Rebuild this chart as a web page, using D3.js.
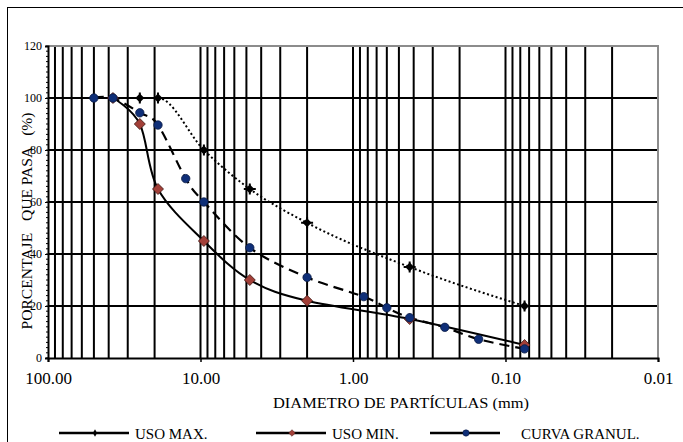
<!DOCTYPE html>
<html>
<head>
<meta charset="utf-8">
<script src="https://cdn.jsdelivr.net/npm/d3@7"></script>
<style>
  body { margin: 0; background: #fff; }
  svg { display: block; }
  text { font-family: "Liberation Serif", "Times New Roman", serif; fill: #000; }
</style>
</head>
<body>
<svg id="chart" width="683" height="442"></svg>
<script>
// Grain-size distribution: specification band (max / min) and the measured curve
const sizesMax = [25, 19, 9.5, 4.75, 2.0, 0.425, 0.075];
const pasaMax = [100, 100, 80, 65, 52, 35, 20];

const sizesMin = [37.5, 25, 19, 9.5, 4.75, 2.0, 0.425, 0.075];
const pasaMin = [100, 90, 65, 45, 30, 22, 15, 5];

const sizesGranul = [50, 37.5, 25, 19, 12.5, 9.5, 4.75, 2.0, 0.85, 0.6, 0.425, 0.25, 0.15, 0.075];
const pasaGranul = [100, 100, 94.3, 89.6, 69, 60, 42.4, 31, 23.6, 19.3, 15.5, 11.8, 7.2, 3.5];

const xTickValues = [100, 10, 1, 0.1, 0.01];
const yTickValues = [0, 20, 40, 60, 80, 100, 120];
const legendLabels = ["USO MAX.", "USO MIN.", "CURVA GRANUL."];
const xTitle = "DIAMETRO DE PARTÍCULAS (mm)";
const yTitle = "PORCENTAJE   QUE PASA   (%)";

const svg = d3.select("#chart");
const W = 683, H = 442;

// outer chart frame (runs off the right and bottom edge)
svg.append("rect")
  .attr("x", 7.5).attr("y", 7.5)
  .attr("width", W + 20).attr("height", H + 20)
  .attr("fill", "none").attr("stroke", "#000").attr("stroke-width", 1);

const plot = { left: 48, right: 658, top: 46, bottom: 358 };

const x = d3.scaleLog().domain([100, 0.01]).range([plot.left, plot.right]);
const y = d3.scaleLinear().domain([0, 120]).range([plot.bottom, plot.top]);

// vertical log grid: 1..9 in every decade
const gridX = [];
[10, 1, 0.1, 0.01].forEach(k => {
  for (let m = 1; m <= 9; m++) {
    const v = +(m * k).toPrecision(6);
    if (v > 0.01 && v < 100) gridX.push(v);
  }
});
const grid = svg.append("g");
grid.selectAll("line.vx").data(gridX).join("line")
  .attr("x1", d => x(d)).attr("x2", d => x(d))
  .attr("y1", y(0)).attr("y2", y(120))
  .attr("stroke", "#000").attr("stroke-width", 2);
grid.selectAll("line.hy").data(yTickValues.filter(v => v > 0 && v < 120)).join("line")
  .attr("x1", plot.left).attr("x2", plot.right)
  .attr("y1", d => y(d)).attr("y2", d => y(d))
  .attr("stroke", "#000").attr("stroke-width", 2);

// plot-area border (top and right)
svg.append("path")
  .attr("d", `M${plot.left},${y(120)}H${plot.right}V${y(0)}`)
  .attr("fill", "none").attr("stroke", "#8c8c8c").attr("stroke-width", 2);

// y axis with minor ticks every 2 %
const yMinor = d3.range(0, 121, 2);
svg.append("g").selectAll("line").data(yMinor).join("line")
  .attr("x1", plot.left - 2).attr("x2", plot.left)
  .attr("y1", d => y(d)).attr("y2", d => y(d))
  .attr("stroke", "#000").attr("stroke-width", 1);

const yAxis = svg.append("g")
  .attr("transform", `translate(${plot.left},0)`)
  .call(d3.axisLeft(y).tickValues(yTickValues).tickSize(3).tickPadding(3));
yAxis.select(".domain").attr("stroke", "#000").attr("stroke-width", 2);
yAxis.selectAll(".tick line").attr("stroke", "#000");
yAxis.selectAll(".tick text")
  .style("font-family", '"Liberation Serif", serif')
  .style("font-size", "12px").attr("dy", "0.32em");

// x axis (reversed log)
const xAxis = svg.append("g")
  .attr("transform", `translate(0,${plot.bottom})`)
  .call(d3.axisBottom(x).tickValues(xTickValues).tickFormat(d3.format(".2f")).tickSize(4).tickPadding(6));
xAxis.select(".domain").attr("stroke", "#000").attr("stroke-width", 2);
xAxis.selectAll(".tick line").attr("stroke", "#000").attr("stroke-width", 1.5);
xAxis.selectAll(".tick text")
  .style("font-family", '"Liberation Serif", serif')
  .style("font-size", "17px").attr("dy", "0.93em");

// axis titles
svg.append("text")
  .attr("x", 401).attr("y", 408)
  .attr("text-anchor", "middle")
  .style("font-size", "15px")
  .attr("textLength", 256).attr("lengthAdjust", "spacingAndGlyphs")
  .text(xTitle);

svg.append("text")
  .attr("transform", "translate(32,221) rotate(-90)")
  .attr("text-anchor", "middle")
  .style("font-size", "15px")
  .style("white-space", "pre")
  .attr("textLength", 217).attr("lengthAdjust", "spacingAndGlyphs")
  .text(yTitle);

// series
const zip = (xs, ys) => xs.map((d, i) => [d, ys[i]]);
const dataMax = zip(sizesMax, pasaMax);
const dataMin = zip(sizesMin, pasaMin);
const dataGranul = zip(sizesGranul, pasaGranul);

const smooth = d3.line()
  .x(d => x(d[0])).y(d => y(d[1]))
  .curve(d3.curveCardinal.tension(0));
const smoothFlat = d3.line()
  .x(d => x(d[0])).y(d => y(d[1]))
  .curve(d3.curveMonotoneX);

svg.append("path").datum(dataMax).attr("d", smoothFlat)
  .attr("fill", "none").attr("stroke", "#000").attr("stroke-width", 2)
  .attr("stroke-dasharray", "2,2.5");
svg.append("path").datum(dataGranul).attr("d", smooth)
  .attr("fill", "none").attr("stroke", "#000").attr("stroke-width", 2.2)
  .attr("stroke-dasharray", "10,6");
svg.append("path").datum(dataMin).attr("d", smooth)
  .attr("fill", "none").attr("stroke", "#000").attr("stroke-width", 2);

// marker shapes
function plusMarker(g) {
  g.append("path").attr("d", "M-6,0H6M0,-5.5V5.5")
    .attr("stroke", "#000").attr("stroke-width", 2);
  g.append("path").attr("d", "M0,-4.5L4.5,0L0,4.5L-4.5,0Z").attr("fill", "#000");
}
function diamondMarker(g) {
  g.append("path").attr("d", "M0,-5.5L5.5,0L0,5.5L-5.5,0Z")
    .attr("fill", "#a23f38").attr("stroke", "#3b1410").attr("stroke-width", 0.8);
}
function dotMarker(g) {
  g.append("circle").attr("r", 4.2)
    .attr("fill", "#0f2f78").attr("stroke", "#0a1a44").attr("stroke-width", 0.8);
}

function drawMarkers(data, shape) {
  svg.append("g").selectAll("g").data(data).join("g")
    .attr("transform", d => `translate(${x(d[0])},${y(d[1])})`)
    .each(function () { shape(d3.select(this)); });
}
drawMarkers(dataMax, plusMarker);
drawMarkers(dataMin, diamondMarker);
drawMarkers(dataGranul, dotMarker);

// legend
const legendItems = [
  { label: legendLabels[0], x0: 59, shape: plusMarker, small: 0.6 },
  { label: legendLabels[1], x0: 256, shape: diamondMarker, small: 0.6 },
  { label: legendLabels[2], x0: 430, shape: dotMarker, small: 0.75 }
];
const legendY = 433;
const lg = svg.append("g").selectAll("g").data(legendItems).join("g")
  .attr("transform", d => `translate(${d.x0},${legendY})`);
lg.append("line").attr("x1", 0).attr("x2", 70).attr("y1", 0).attr("y2", 0)
  .attr("stroke", "#000").attr("stroke-width", 2.5);
lg.append("g").attr("transform", d => `translate(36,0) scale(${d.small})`)
  .each(function (d) { d.shape(d3.select(this)); });
lg.append("text").attr("x", d => d.label === legendLabels[2] ? 91 : 76).attr("y", 6)
  .style("font-size", "15px")
  .text(d => d.label);
</script>
</body>
</html>
